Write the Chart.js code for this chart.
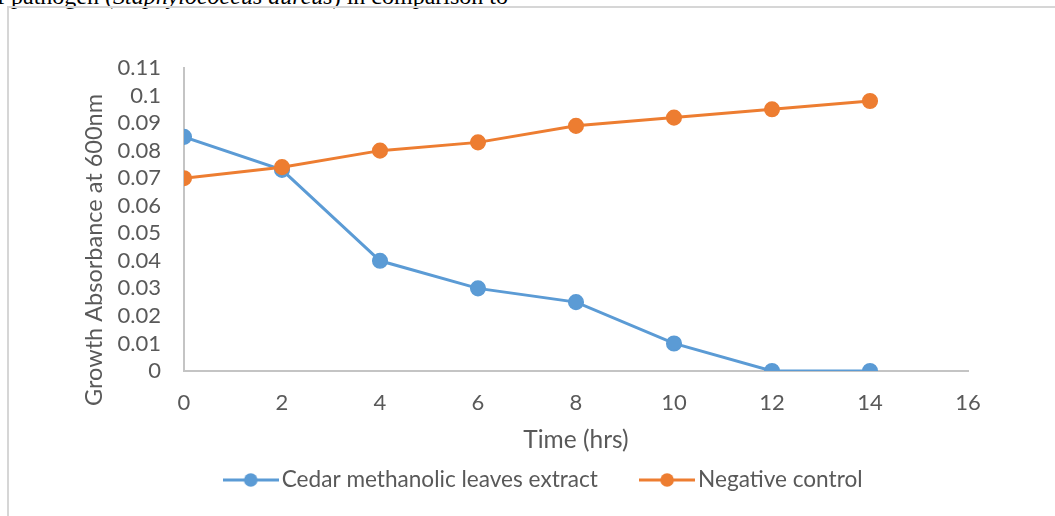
<!DOCTYPE html>
<html><head><meta charset="utf-8">
<script src="https://cdn.jsdelivr.net/npm/chart.js@4.4.0/dist/chart.umd.min.js"></script>
<style>
html,body{margin:0;padding:0;background:#fff;width:1055px;height:516px;overflow:hidden;position:relative}
#hdr{position:absolute;left:-3px;top:-16px;font:24px/24px "Liberation Serif","Times New Roman",serif;color:#000;white-space:nowrap}
#frame{position:absolute;left:7px;top:6px;width:1100px;height:600px;border-left:2px solid #d6d6d6;border-top:2px solid #d6d6d6}
#wrap{position:absolute;left:0;top:0;width:1055px;height:516px}
</style></head><body>
<div id="hdr">f pathogen (<i>Staphylococcus aureus</i>) in comparison to</div>
<div id="frame"></div>
<div id="wrap"><canvas id="c" width="1055" height="516"></canvas></div>
<script>
// ---- data ----
const timeHrs = [0, 2, 4, 6, 8, 10, 12, 14];
const cedarExtract = [0.085, 0.073, 0.040, 0.030, 0.025, 0.010, 0, 0];
const negativeControl = [0.070, 0.074, 0.080, 0.083, 0.089, 0.092, 0.095, 0.098];
const seriesNames = ['Cedar methanolic leaves extract', 'Negative control'];
const xTickValues = [0, 2, 4, 6, 8, 10, 12, 14, 16];
const xTickLabels = ['0', '2', '4', '6', '8', '10', '12', '14', '16'];
const yTickValues = [0, 0.01, 0.02, 0.03, 0.04, 0.05, 0.06, 0.07, 0.08, 0.09, 0.1, 0.11];
const yTickLabels = ['0', '0.01', '0.02', '0.03', '0.04', '0.05', '0.06', '0.07', '0.08', '0.09', '0.1', '0.11'];
const xTitle = 'Time (hrs)';
const yTitle = 'Growth Absorbance at 600nm';

// ---- style ----
const BLUE = '#5b9bd5', ORANGE = '#ed7d31', TXT = '#595959', AXIS = '#c4c4c4';
const FONT = 'Lato';
const TICK_SIZE = 22, TITLE_SIZE = 24.5, LEG_SIZE = 22.6;
const LEG_PAD = 49.5;
const PLOT = {left: 184, right: 968, top: 68, bottom: 371};
const Y_TITLE_CENTER = {x: 94, y: 250};
const X_TITLE_CENTER_Y = 440;
const LEGEND_FIRST_X = 231, LEGEND_CENTER_Y = 480;

function makeIcon(color) {
  const cv = document.createElement('canvas');
  cv.width = 56; cv.height = 16;
  const g = cv.getContext('2d');
  g.strokeStyle = color; g.lineWidth = 3;
  g.beginPath(); g.moveTo(0, 8); g.lineTo(56, 8); g.stroke();
  g.fillStyle = color;
  g.beginPath(); g.arc(28, 8, 6.8, 0, Math.PI * 2); g.fill();
  return cv;
}
const legendIcons = [makeIcon(BLUE), makeIcon(ORANGE)];

const toPoints = (xs, ys) => xs.map((x, i) => ({x: x, y: ys[i]}));

const placer = {
  id: 'placer',
  beforeDraw(chart) {
    const L = chart.legend;
    if (L) {
      const p = L.options.labels.padding;
      const h = L.height;
      L.left = LEGEND_FIRST_X - p;
      L.top = LEGEND_CENTER_Y - LEG_SIZE / 2 - p;
      L.bottom = L.top + h;
    }
    const ys = chart.scales.y, xs = chart.scales.x;
    if (ys && !ys._patched) {
      const orig = ys.drawTitle;
      ys.drawTitle = function () {
        const lh = 23.5 * 1.2;
        const dx = Y_TITLE_CENTER.x - (this.left + lh / 2);
        const dy = Y_TITLE_CENTER.y - (this.top + this.bottom) / 2;
        this.left += dx; this.right += dx; this.top += dy; this.bottom += dy;
        orig.call(this);
        this.left -= dx; this.right -= dx; this.top -= dy; this.bottom -= dy;
      };
      ys._patched = true;
    }
    if (xs && !xs._patched) {
      const orig = xs.drawTitle;
      xs.drawTitle = function () {
        const lh = TITLE_SIZE * 1.2;
        const dy = X_TITLE_CENTER_Y - (this.bottom - lh / 2);
        this.top += dy; this.bottom += dy;
        orig.call(this);
        this.top -= dy; this.bottom -= dy;
      };
      xs._patched = true;
    }
  }
};

new Chart(document.getElementById('c'), {
  type: 'line',
  data: {
    datasets: [
      {label: seriesNames[0], data: toPoints(timeHrs, cedarExtract), borderColor: BLUE, backgroundColor: BLUE,
       pointBackgroundColor: BLUE, pointBorderColor: BLUE, borderWidth: 3, pointRadius: 7.3, pointBorderWidth: 1.5, order: 1, tension: 0},
      {label: seriesNames[1], data: toPoints(timeHrs, negativeControl), borderColor: ORANGE, backgroundColor: ORANGE,
       pointBackgroundColor: ORANGE, pointBorderColor: ORANGE, borderWidth: 3, pointRadius: 7.3, pointBorderWidth: 1.5, order: 0, tension: 0}
    ]
  },
  options: {
    responsive: false,
    animation: false,
    devicePixelRatio: 1,
    layout: {padding: {left: 0, right: 1055 - PLOT.right, top: PLOT.top, bottom: 0}},
    plugins: {
      tooltip: {enabled: false},
      legend: {
        position: 'bottom',
        align: 'start',
        labels: {
          usePointStyle: true,
          pointStyleWidth: 62 - LEG_SIZE,
          padding: LEG_PAD,
          color: TXT,
          font: {family: FONT, size: LEG_SIZE},
          sort: (a, b) => a.datasetIndex - b.datasetIndex,
          generateLabels(chart) {
            const items = Chart.defaults.plugins.legend.labels.generateLabels(chart);
            items.forEach(it => { it.pointStyle = legendIcons[it.datasetIndex]; });
            return items;
          }
        }
      }
    },
    scales: {
      x: {
        type: 'linear', min: 0, max: 16,
        afterBuildTicks: s => { s.ticks = xTickValues.map(v => ({value: v})); },
        afterFit: s => { s.height = 516 - PLOT.bottom - (s.chart.legend ? s.chart.legend.height : 0); },
        grid: {display: false, drawTicks: false},
        border: {display: true, color: AXIS, width: 2},
        ticks: {color: TXT, font: {family: FONT, size: TICK_SIZE}, padding: 19, maxRotation: 0, autoSkip: false,
                callback: (v, i) => xTickLabels[i]},
        title: {display: true, text: xTitle, color: TXT, font: {family: FONT, size: TITLE_SIZE}, padding: 0}
      },
      y: {
        type: 'linear', min: 0, max: 0.11,
        afterBuildTicks: s => { s.ticks = yTickValues.map(v => ({value: v})); },
        afterFit: s => { s.width = PLOT.left; },
        grid: {display: false, drawTicks: false},
        border: {display: true, color: AXIS, width: 2},
        ticks: {color: TXT, font: {family: FONT, size: TICK_SIZE}, padding: 23, autoSkip: false,
                callback: (v, i) => yTickLabels[i]},
        title: {display: true, text: yTitle, color: TXT, font: {family: FONT, size: 23.5}, padding: 0}
      }
    }
  },
  plugins: [placer]
});
</script>
</body></html>
